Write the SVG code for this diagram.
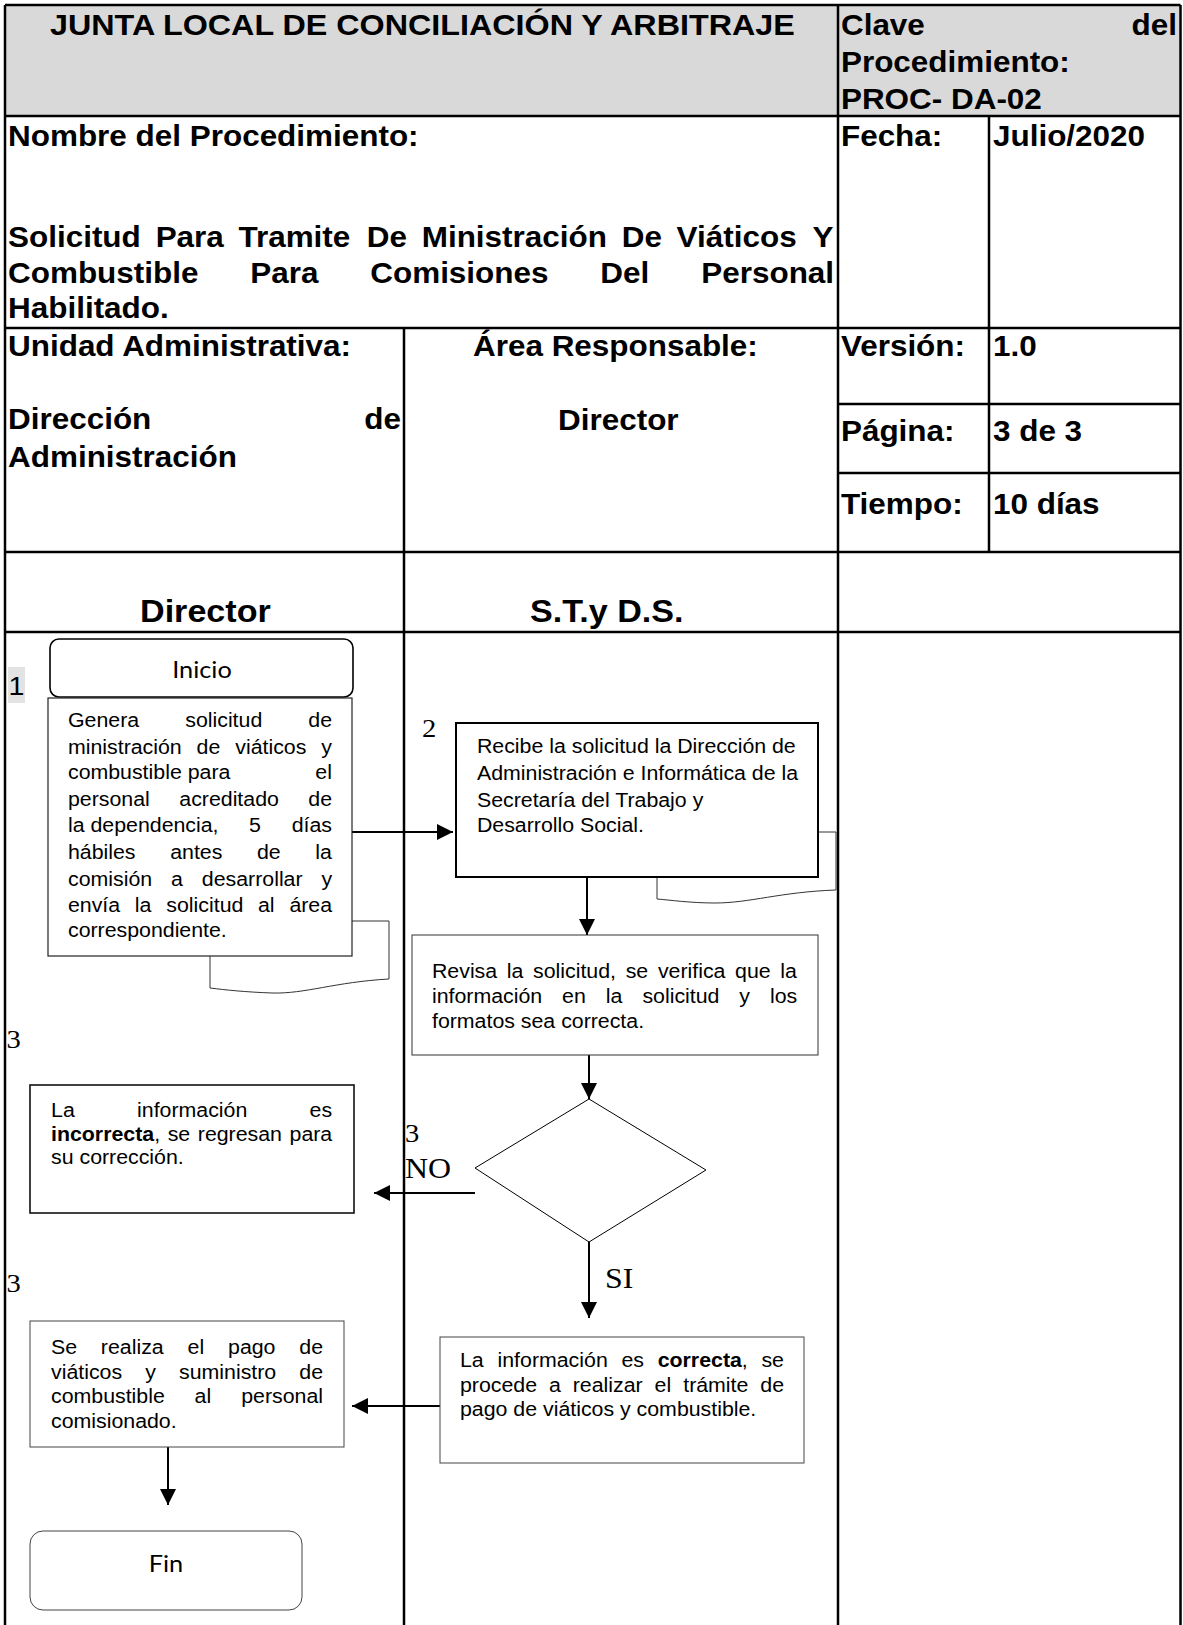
<svg xmlns="http://www.w3.org/2000/svg" width="1183" height="1625" viewBox="0 0 1183 1625">
<defs>
<style>
.hb{font-family:"Liberation Sans",Arial,sans-serif;font-weight:bold;font-size:28.6px;fill:#000}
.lh{font-family:"Liberation Sans",Arial,sans-serif;font-weight:bold;font-size:31px;fill:#000}
.bt{font-family:"Liberation Sans",Arial,sans-serif;font-size:19.4px;fill:#000}
.b{font-weight:bold}
.tm{font-family:"Liberation Serif","Times New Roman",serif;font-size:26px;fill:#000}
.tm2{font-family:"Liberation Serif","Times New Roman",serif;font-size:29px;fill:#000}
.cal{font-family:Lato,"Open Sans",sans-serif;font-size:23px;fill:#000}
.grid{stroke:#000;stroke-width:2.5;fill:none}
.conn{stroke:#000;stroke-width:2;fill:none}
.box{fill:#fff}
</style>
<marker id="ah" markerUnits="userSpaceOnUse" markerWidth="17" markerHeight="17" refX="16" refY="8" orient="auto" viewBox="0 0 17 17"><path d="M0,0 L16,8 L0,16 z" fill="#000"/></marker>
</defs>
<rect width="1183" height="1625" fill="#fff"/>
<g id="table">
<rect x="5" y="5" width="1175.5" height="111" fill="#d9d9d9"/>
<path class="grid" d="M5,5 H1180.5 M5,5 V1625 M1180.5,5 V1625 M5,116 H1180.5 M5,328 H1180.5 M5,552 H1180.5 M5,632 H1180.5 M838,5 V1625 M989,116 V552 M838,404 H1180.5 M838,473 H1180.5 M404,328 V1625"/>
<g transform="scale(1.1 1)">
<text class="hb" x="45.5" y="35" textLength="677" lengthAdjust="spacingAndGlyphs">JUNTA LOCAL DE CONCILIACIÓN Y ARBITRAJE</text>
<text class="hb" x="764.5" y="35">Clave</text>
<text class="hb" x="1070" y="35" text-anchor="end">del</text>
<text class="hb" x="764.5" y="72">Procedimiento:</text>
<text class="hb" x="764.5" y="109">PROC- DA-02</text>
<text class="hb" x="7.3" y="146">Nombre del Procedimiento:</text>
<text class="hb" x="764.5" y="146">Fecha:</text>
<text class="hb" x="902.7" y="146">Julio/2020</text>
<text class="hb" y="247"><tspan x="7.3">Solicitud</tspan><tspan x="141.5">Para</tspan><tspan x="216.8">Tramite</tspan><tspan x="333.5">De</tspan><tspan x="383.4">Ministración</tspan><tspan x="565.2">De</tspan><tspan x="615.1">Viáticos</tspan><tspan x="738.6">Y</tspan></text>
<text class="hb" y="283"><tspan x="7.3">Combustible</tspan><tspan x="227.5">Para</tspan><tspan x="336.6">Comisiones</tspan><tspan x="545.8">Del</tspan><tspan x="637.5">Personal</tspan></text>
<text class="hb" x="7.3" y="318">Habilitado.</text>
<text class="hb" x="7.3" y="356">Unidad Administrativa:</text>
<text class="hb" x="430" y="356">Área Responsable:</text>
<text class="hb" x="764.5" y="356">Versión:</text>
<text class="hb" x="902.7" y="356">1.0</text>
<text class="hb" x="7.3" y="429">Dirección</text>
<text class="hb" x="364.5" y="429" text-anchor="end">de</text>
<text class="hb" x="7.3" y="467">Administración</text>
<text class="hb" x="507.3" y="430">Director</text>
<text class="hb" x="764.5" y="441">Página:</text>
<text class="hb" x="902.7" y="441">3 de 3</text>
<text class="hb" x="764.5" y="514">Tiempo:</text>
<text class="hb" x="902.7" y="514">10 días</text>
<text class="lh" x="127.3" y="622">Director</text>
<text class="lh" x="481.8" y="622">S.T.y D.S.</text>
</g>
</g>
<g id="labels">
<rect x="8" y="667" width="17" height="36" fill="#e3e3e3"/>
<g transform="scale(1.1 1)">
<text class="bt" style="font-size:26px" x="7.8" y="695">1</text>
<text class="tm" x="383.6" y="737">2</text>
<text class="tm" x="6" y="1048">3</text>
<text class="tm" x="368.2" y="1142">3</text>
<text class="tm2" x="368.2" y="1178">NO</text>
<text class="tm" x="6" y="1292">3</text>
<text class="tm2" x="550" y="1288">SI</text>
</g>
</g>
<g id="connectors">
<path class="conn" d="M352,832 H453" marker-end="url(#ah)"/>
<path class="conn" d="M587,877 V935" marker-end="url(#ah)"/>
<path class="conn" d="M589,1055 V1099" marker-end="url(#ah)"/>
<path class="conn" d="M475,1193 H374" marker-end="url(#ah)"/>
<path class="conn" d="M589,1241 V1318" marker-end="url(#ah)"/>
<path class="conn" d="M440,1406 H352" marker-end="url(#ah)"/>
<path class="conn" d="M168,1447 V1505" marker-end="url(#ah)"/>
</g>
<g id="inicio">
<rect x="50" y="639" width="303" height="58" rx="9" fill="#fff" stroke="#000" stroke-width="1.6"/>
<g transform="scale(1.1 1)"><text class="cal" x="183.6" y="678" text-anchor="middle">Inicio</text></g>
</g>
<g id="genera">
<path d="M340,921 H389 V979 C335,982 305,994 272,993 C245,992 226,990 210,988 V950" fill="#fff" stroke="#333" stroke-width="1"/>
<rect x="48" y="698" width="304" height="258" fill="#fff" stroke="#222" stroke-width="1.2"/>
<g transform="scale(1.1 1)">
<text class="bt" y="727"><tspan x="61.8">Genera</tspan><tspan x="168.4">solicitud</tspan><tspan x="280.3">de</tspan></text>
<text class="bt" y="754"><tspan x="61.8">ministración</tspan><tspan x="178.7">de</tspan><tspan x="213.9">viáticos</tspan><tspan x="292.1">y</tspan></text>
<text class="bt" y="779"><tspan x="61.8">combustible para</tspan><tspan x="286.7">el</tspan></text>
<text class="bt" y="806"><tspan x="61.8">personal</tspan><tspan x="163">acreditado</tspan><tspan x="280.3">de</tspan></text>
<text class="bt" y="832"><tspan x="61.8">la dependencia,</tspan><tspan x="226.4">5</tspan><tspan x="265.2">días</tspan></text>
<text class="bt" y="859"><tspan x="61.8">hábiles</tspan><tspan x="154.7">antes</tspan><tspan x="233.6">de</tspan><tspan x="286.7">la</tspan></text>
<text class="bt" y="886"><tspan x="61.8">comisión</tspan><tspan x="155.5">a</tspan><tspan x="183.5">desarrollar</tspan><tspan x="292.2">y</tspan></text>
<text class="bt" y="912"><tspan x="61.8">envía</tspan><tspan x="122.6">la</tspan><tspan x="151.2">solicitud</tspan><tspan x="234.5">al</tspan><tspan x="263.1">área</tspan></text>
<text class="bt" x="61.8" y="937">correspondiente.</text>
</g>
</g>
<g id="recibe">
<path d="M810,832 H836 V890 C780,892 750,903 715,903 C690,903 670,900 657,899 V870" fill="#fff" stroke="#333" stroke-width="1"/>
<rect x="456" y="723" width="362" height="154" fill="#fff" stroke="#000" stroke-width="2"/>
<g transform="scale(1.1 1)">
<text class="bt" x="433.6" y="753">Recibe la solicitud la Dirección de</text>
<text class="bt" x="433.6" y="780">Administración e Informática de la</text>
<text class="bt" x="433.6" y="807">Secretaría del Trabajo y</text>
<text class="bt" x="433.6" y="832">Desarrollo Social.</text>
</g>
</g>
<g id="revisa">
<rect x="412" y="935" width="406" height="120" fill="#fff" stroke="#333" stroke-width="1"/>
<g transform="scale(1.1 1)">
<text class="bt" y="978"><tspan x="392.7">Revisa</tspan><tspan x="460.7">la</tspan><tspan x="484.6">solicitud,</tspan><tspan x="568.8">se</tspan><tspan x="598.1">verifica</tspan><tspan x="668.3">que</tspan><tspan x="709.4">la</tspan></text>
<text class="bt" y="1003"><tspan x="392.7">información</tspan><tspan x="511">en</tspan><tspan x="550.7">la</tspan><tspan x="584">solicitud</tspan><tspan x="672.1">y</tspan><tspan x="700">los</tspan></text>
<text class="bt" x="392.7" y="1028">formatos sea correcta.</text>
</g>
</g>
<g id="decision">
<path d="M589,1099 L706,1170 L589,1242 L475,1168 Z" fill="#fff" stroke="#000" stroke-width="1"/>
</g>
<g id="incorrecta">
<rect x="30" y="1085" width="324" height="128" fill="#fff" stroke="#111" stroke-width="1.6"/>
<g transform="scale(1.1 1)">
<text class="bt" y="1117"><tspan x="46.4">La</tspan><tspan x="124.6">información</tspan><tspan x="281.4">es</tspan></text>
<text class="bt" y="1141"><tspan x="46.4" class="b">incorrecta</tspan><tspan>,</tspan><tspan x="152.4">se</tspan><tspan x="179.8">regresan</tspan><tspan x="263.2">para</tspan></text>
<text class="bt" x="46.4" y="1164">su corrección.</text>
</g>
</g>
<g id="correcta">
<rect x="440" y="1337" width="364" height="126" fill="#fff" stroke="#444" stroke-width="1"/>
<g transform="scale(1.1 1)">
<text class="bt" y="1367"><tspan x="418.2">La</tspan><tspan x="452.3">información</tspan><tspan x="564.9">es</tspan><tspan x="597.9" class="b">correcta</tspan><tspan>,</tspan><tspan x="692.2">se</tspan></text>
<text class="bt" y="1392"><tspan x="418.2">procede</tspan><tspan x="499.1">a</tspan><tspan x="520.7">realizar</tspan><tspan x="595.1">el</tspan><tspan x="621.1">trámite</tspan><tspan x="691.2">de</tspan></text>
<text class="bt" x="418.2" y="1416">pago de viáticos y combustible.</text>
</g>
</g>
<g id="pago">
<rect x="30" y="1321" width="314" height="126" fill="#fff" stroke="#444" stroke-width="1"/>
<g transform="scale(1.1 1)">
<text class="bt" y="1354"><tspan x="46.4">Se</tspan><tspan x="91.7">realiza</tspan><tspan x="170.5">el</tspan><tspan x="207.3">pago</tspan><tspan x="272.1">de</tspan></text>
<text class="bt" y="1379"><tspan x="46.4">viáticos</tspan><tspan x="132">y</tspan><tspan x="162.8">suministro</tspan><tspan x="272.1">de</tspan></text>
<text class="bt" y="1403"><tspan x="46.4">combustible</tspan><tspan x="176.9">al</tspan><tspan x="219.3">personal</tspan></text>
<text class="bt" x="46.4" y="1428">comisionado.</text>
</g>
</g>
<g id="fin">
<rect x="30" y="1531" width="272" height="79" rx="13" fill="#fff" stroke="#444" stroke-width="1"/>
<g transform="scale(1.1 1)"><text class="cal" x="150.9" y="1572" text-anchor="middle">Fin</text></g>
</g>
</svg>
